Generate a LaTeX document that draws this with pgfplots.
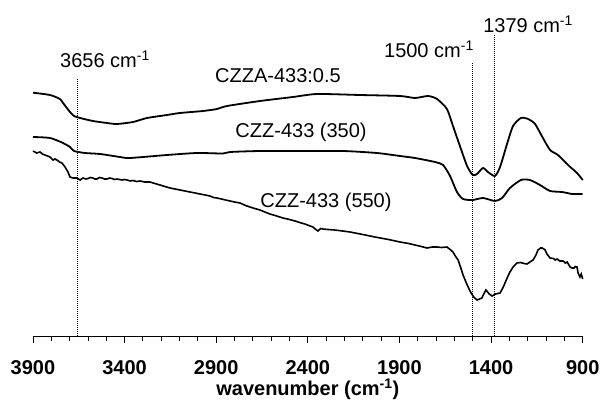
\documentclass[border=0pt]{standalone}
\usepackage{fontspec}
\setmainfont{Liberation Sans}
\usepackage{pgfplots}
\pgfplotsset{compat=1.18}

% FTIR spectra, offset vertically (arbitrary units above the baseline)
\newcommand{\bigfont}{\fontsize{20}{24}\selectfont}

\begin{document}
\begin{tikzpicture}
\useasboundingbox (-33pt,-66pt) rectangle (567pt,336pt);
\begin{axis}[
  at={(0,0)}, anchor=south west,
  scale only axis,
  width=549.7pt, height=336pt,
  x dir=reverse,
  xmin=900, xmax=3900,
  ymin=0, ymax=336,
  axis x line=bottom,
  axis y line=none,
  axis line style={-, line width=1pt},
  xtick={900,1400,1900,2400,2900,3400,3900},
  minor x tick num=4,
  tick align=outside,
  major tick length=7pt,
  minor tick length=4.5pt,
  every tick/.style={black, line width=0.9pt},
  /pgf/number format/assume math mode=true,
  /pgf/number format/1000 sep={},
  xticklabel style={font=\bigfont\bfseries, yshift=-14pt},
  xlabel={\bfseries wavenumber (cm\textsuperscript{-1})},
  xlabel style={font=\bigfont, yshift=3pt},
  clip=false,
]

% CZZA-433:0.5
\addplot[black, line width=1.8pt, smooth, tension=0.4] coordinates {
(3900,243.3) (3807,241) (3753,237) (3736,233) (3698,224) (3676,220)
(3643,218) (3573,215) (3496,213) (3442,212) (3354,214) (3278,218)
(3169,221) (3098,223) (2972,225) (2896,227) (2841,230) (2661,235)
(2481,239) (2350,242) (2115,241) (1897,240) (1815,238) (1744,240)
(1695,237) (1641,227) (1608,210) (1570,190) (1531,170) (1500,161)
(1477,162) (1444,168) (1417,164) (1379,160) (1351,169) (1313,192)
(1280,210) (1237,218) (1198,217) (1160,212) (1117,198) (1078,186)
(1035,181) (980,171) (931,163) (900,156)
};

% CZZ-433 (350)
\addplot[black, line width=1.8pt, smooth, tension=0.4] coordinates {
(3900,199) (3807,198) (3736,193) (3698,189) (3676,185) (3616,183)
(3534,182) (3425,179) (3371,178) (3169,181) (3005,183) (2863,182.5)
(2825,184) (2661,185) (2443,185) (2208,185) (2023,183) (1897,180)
(1815,178) (1706,174) (1662,171) (1624,160) (1586,144) (1553,137)
(1500,136) (1444,138) (1379,135) (1340,138) (1297,148) (1237,156)
(1188,156) (1133,151) (1078,145) (1013,144) (958,142) (931,142)
(900,142)
};

% CZZ-433 (550)
\addplot[black, line width=1.6pt] coordinates {
(3900,185) (3880,183) (3862,184) (3848,182) (3835,181) (3820,180)
(3807,179) (3791,176) (3780,177) (3769,176) (3755,174) (3742,173)
(3725,169) (3709,164) (3698,159) (3682,158) (3660,158) (3643,156)
(3627,158) (3612,157) (3600,157.5) (3587,158.5) (3573,158) (3562,157)
(3551,157) (3537,158.5) (3523,158) (3510,157) (3496,157) (3482,158)
(3469,157.5) (3455,156.5) (3442,157) (3428,156.5) (3414,156)
(3400,156.5) (3387,156) (3370,155) (3354,155.5) (3335,154.5)
(3316,155) (3290,154) (3262,154) (3235,152.5) (3207,151) (3180,149.5)
(3152,148) (3125,147) (3098,146) (3070,145) (3043,144) (3015,143)
(2989,142) (2960,141) (2934,140) (2915,138.5) (2896,138) (2860,136.5)
(2825,135) (2800,134) (2770,133) (2740,130.5) (2716,129) (2690,127.5)
(2661,126) (2635,124) (2607,122) (2570,120) (2536,118) (2500,116.5)
(2470,115) (2445,113.5) (2416,112) (2395,110.5) (2372,109)
(2360,107) (2345,105) (2330,107.5) (2318,107) (2290,106.5)
(2253,106) (2210,105) (2170,104) (2100,101.5) (2034,99) (1960,96.5)
(1897,94) (1850,92.5) (1815,91) (1780,89.5) (1750,88) (1720,89)
(1695,89) (1670,88.5) (1641,89) (1620,86) (1608,84) (1595,80)
(1580,76) (1565,68) (1553,61) (1535,53) (1515,45) (1495,39)
(1477,36) (1463,37) (1450,38) (1440,42) (1428,46) (1410,42)
(1395,40) (1375,42) (1351,43) (1336,48) (1324,53) (1310,59)
(1297,64) (1280,69) (1258,73) (1240,73.5) (1220,72.5) (1204,72)
(1188,74) (1171,76) (1155,81) (1144,86) (1130,88) (1122,88)
(1112,87) (1105,86) (1095,82) (1078,78) (1060,77.5) (1050,76)
(1040,77) (1025,75) (1007,75) (995,73) (985,74) (975,71) (969,69)
(958,68) (948,68) (940,69.5) (931,69) (925,63) (915,59) (908,62)
(900,57)
};

% marker lines for selected bands
\addplot[black, line width=1pt, dash pattern=on 1pt off 1pt] coordinates {(3656,0) (3656,258)};
\addplot[black, line width=1pt, dash pattern=on 1pt off 1pt] coordinates {(1500,0) (1500,274)};
\addplot[black, line width=1pt, dash pattern=on 1pt off 1pt] coordinates {(1379,0) (1379,301)};

% band labels
\node[font=\bigfont, anchor=base, inner sep=0pt] at (axis cs:3507,268) {3656 cm\textsuperscript{-1}};
\node[font=\bigfont, anchor=base, inner sep=0pt] at (axis cs:1739,278) {1500 cm\textsuperscript{-1}};
\node[font=\bigfont, anchor=base, inner sep=0pt] at (axis cs:1198,303) {1379 cm\textsuperscript{-1}};

% series labels
\node[font=\bigfont, anchor=base, inner sep=0pt] at (axis cs:2563,253) {CZZA-433:0.5};
\node[font=\bigfont, anchor=base, inner sep=0pt] at (axis cs:2437,199) {CZZ-433 (350)};
\node[font=\bigfont, anchor=base, inner sep=0pt] at (axis cs:2301,129) {CZZ-433 (550)};
\end{axis}
\end{tikzpicture}
\end{document}
